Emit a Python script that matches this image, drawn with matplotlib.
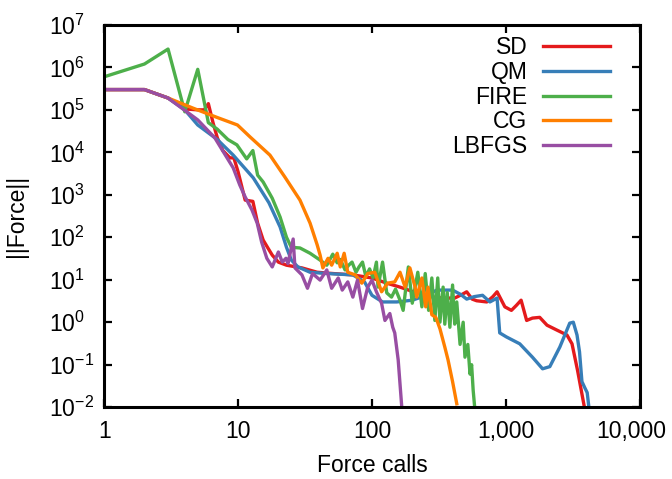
import matplotlib
matplotlib.use("Agg")
import matplotlib.pyplot as plt
import matplotlib.transforms as mtransforms
from matplotlib.ticker import FixedLocator, FixedFormatter, NullLocator

plt.rcParams['font.family'] = ['Liberation Sans', 'DejaVu Sans']
plt.rcParams['mathtext.fontset'] = 'custom'
plt.rcParams['mathtext.rm'] = 'Liberation Sans'

# ---- data (force calls vs ||Force||) ----
sd_x = [1, 2, 3, 4, 5, 5.6, 6, 6.5, 7, 7.7,
        8.7, 9.3, 10, 11.3, 12.9, 14, 15.4, 16.7, 18, 20,
        23, 30, 39, 51, 72, 100, 129, 162, 216, 286,
        340, 415, 470, 510, 560, 605, 720, 800, 860, 983,
        1100, 1200, 1300, 1430, 1580, 1790, 2030, 2410, 2860, 3120,
        3430, 3860]
sd_y = [3e5, 3e5, 1.9e5, 1.05e5, 1e5, 1e5, 1.4e5, 5e4, 2.2e4, 1.1e4,
        7.4e3, 7.4e3, 3.5e3, 750, 700, 215, 86, 56, 38, 26,
        22, 19, 15, 14, 13, 11, 8.3, 6.7, 4.9, 3.9,
        3.7, 3.7, 4.5, 5.2, 3.5, 3.2, 3.0, 4.0, 5.2, 2.3,
        1.9, 2.5, 3.3, 1.1, 1.25, 1.3, 0.85, 0.65, 0.5, 0.31,
        0.074, 0.01]

qm_x = [1, 2, 3, 4, 5, 7, 9.2, 13, 17, 20.6,
        23, 25, 28, 34.5, 46, 72, 88, 100, 120, 153,
        200, 256, 305, 400, 460, 510, 580, 670, 760, 860,
        900, 1010, 1270, 1580, 1880, 2130, 2530, 3000, 3190, 3400,
        3550, 3700, 3900, 4050, 4170]
qm_y = [3e5, 3e5, 1.9e5, 1e5, 4.4e4, 2e4, 8.6e3, 2.5e3, 650, 175,
        58, 29, 20, 15, 14, 13, 8.9, 4.3, 3.0, 3.0,
        3.3, 4.3, 5.7, 5.7, 4.5, 3.5, 4.0, 4.3, 3.0, 3.7,
        0.56, 0.45, 0.31, 0.15, 0.08, 0.09, 0.26, 0.95, 1.0, 0.5,
        0.2, 0.04, 0.028, 0.022, 0.01]

fire_x = [1, 2, 3, 4, 5, 6, 7, 8.4, 9.8, 11.6,
          12.9, 14, 15.4, 18, 20.6, 23, 25, 29, 34.5, 41,
          46, 51, 55, 58, 63, 67, 71, 76, 80, 85,
          90, 96, 102, 108, 111, 120, 129, 140, 150, 162,
          171, 187, 200, 220, 236, 250, 265, 280, 295, 310,
          322, 340, 350, 365, 382, 400, 415, 430, 455, 480,
          495, 520, 540, 555, 570, 585]
fire_y = [6e5, 1.2e6, 2.7e6, 9e4, 9e5, 5e4, 3.5e4, 2e4, 1.5e4, 7e3,
          1.1e4, 2.9e3, 2e3, 830, 300, 100, 58, 56, 42, 29,
          22, 40, 25, 30, 17, 22, 26, 15, 20, 26,
          12, 18, 11, 26, 6.7, 26, 4.9, 3.9, 6, 3.3,
          1.9, 20, 2.8, 15, 2.3, 14, 1.9, 11, 1.1, 11,
          1.0, 6.7, 0.9, 5, 0.76, 7.5, 0.9, 3, 0.3, 1,
          0.15, 0.3, 0.06, 0.1, 0.025, 0.01]

cg_x = [1, 2, 3, 4.6, 7, 9.9, 12.3, 17.3, 22.4, 29,
        34.5, 39, 41, 43, 47, 50, 55, 58, 62, 66,
        75, 84, 93, 105, 118, 131, 148, 162, 177, 192,
        210, 216, 236, 252, 262, 280, 300, 322, 350, 370,
        400, 430]
cg_y = [3e5, 3e5, 1.9e5, 1.1e5, 6.6e4, 4.4e4, 2.3e4, 8.6e3, 2.6e3, 750,
        215, 66, 38, 19, 32, 22, 42, 20, 42, 15,
        13, 8.3, 14, 15, 5.2, 8.3, 8.9, 15, 6.7, 19,
        6.7, 3.9, 11, 2.3, 6.7, 1.5, 1.3, 0.7, 0.26, 0.13,
        0.04, 0.012]

lbfgs_x = [1, 2, 3, 5, 6.7, 9.2, 10.3, 11.3, 12.7, 13.9,
           15, 16.4, 18, 20, 21.4, 22.8, 23.6, 25.8, 26.6, 30,
           33, 36, 41, 46, 50, 56, 60, 66, 72, 78,
           85, 93, 100, 108, 118, 125, 136, 143, 148, 157,
           167]
lbfgs_y = [3e5, 3e5, 1.9e5, 5.8e4, 2.2e4, 4.3e3, 1.7e3, 890, 440, 215,
           77, 32, 20, 45, 26, 32, 24, 91, 19, 13,
           6.3, 14, 9.8, 17, 6.3, 11, 5.7, 8.9, 3.9, 9.8,
           2.1, 6.7, 9.8, 5.2, 2.8, 1.1, 1.6, 0.76, 0.56, 0.13,
           0.01]

series = [
    ('SD', sd_x, sd_y, '#e41a1c'),
    ('QM', qm_x, qm_y, '#377eb8'),
    ('FIRE', fire_x, fire_y, '#4daf4a'),
    ('CG', cg_x, cg_y, '#ff7f00'),
    ('LBFGS', lbfgs_x, lbfgs_y, '#984ea3'),
]

x_ticks = [1, 10, 100, 1000, 10000]
x_labels = ['1', '10', '100', '1,000', '10,000']
y_ticks = [1e-2, 1e-1, 1e0, 1e1, 1e2, 1e3, 1e4, 1e5, 1e6, 1e7]
y_labels = ['$\\mathregular{10^{%d}}$' % e for e in range(-2, 8)]

fs = 16.5

fig = plt.figure(figsize=(6.72, 4.79), dpi=100)
ax = fig.add_axes([0.155, 0.150, 0.797, 0.798])

for name, xs, ys, col in series:
    ax.plot(xs, ys, color=col, lw=2.4, label=name)

ax.set_xscale('log')
ax.set_yscale('log')
ax.set_xlim(1, 10000)
ax.set_ylim(1e-2, 1e7)

ax.xaxis.set_major_locator(FixedLocator(x_ticks))
ax.xaxis.set_major_formatter(FixedFormatter(x_labels))
ax.yaxis.set_major_locator(FixedLocator(y_ticks))
ax.yaxis.set_major_formatter(FixedFormatter(y_labels))
ax.xaxis.set_minor_locator(NullLocator())
ax.yaxis.set_minor_locator(NullLocator())

ax.tick_params(which='major', direction='in', length=6, width=1.6,
               top=True, right=True, labelsize=fs)
ax.tick_params(axis='x', pad=9)
ax.tick_params(axis='y', pad=40)
for lab in ax.get_yticklabels():
    lab.set_horizontalalignment('left')

# last x label sits a little left of the axis end, as in the reference
last = ax.get_xticklabels()[-1]
last.set_transform(last.get_transform() +
                   mtransforms.ScaledTranslation(-6 / 72, 0, fig.dpi_scale_trans))

for sp in ax.spines.values():
    sp.set_linewidth(2.2)

ax.set_xlabel('Force calls', fontsize=fs, labelpad=8)
ax.set_ylabel('||Force||', fontsize=fs, labelpad=15)

leg = ax.legend(loc='upper right', bbox_to_anchor=(0.944, 0.971),
                frameon=False, fontsize=fs, markerfirst=False,
                handlelength=2.9, handletextpad=0.7, labelspacing=0.08,
                borderpad=0, borderaxespad=0)

plt.savefig('out.png', dpi=100)
plt.close()
